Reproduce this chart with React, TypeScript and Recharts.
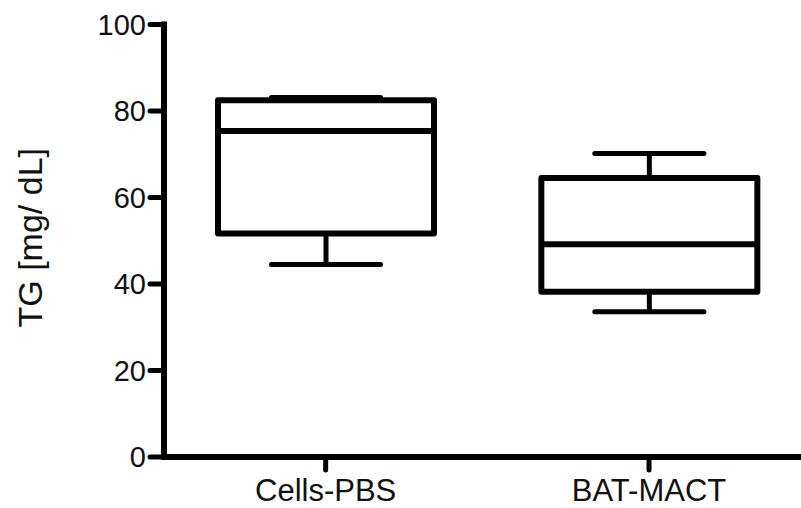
import React from 'react';
import { ComposedChart, Bar, XAxis, YAxis } from 'recharts';

const categories = ['Cells-PBS', 'BAT-MACT'];
const minValues = [44.5, 33.6];
const q1Values = [51.7, 38.2];
const medianValues = [75.4, 49.2];
const q3Values = [82.5, 64.5];
const maxValues = [83.1, 70.2];
const yTicks = [0, 20, 40, 60, 80, 100];
const xTicks = [0, 1];

const data = categories.map((name, i) => ({
  idx: i,
  name,
  range: [minValues[i], maxValues[i]],
  min: minValues[i],
  q1: q1Values[i],
  median: medianValues[i],
  q3: q3Values[i],
  max: maxValues[i],
}));

const FONT = '"Liberation Sans", Arial, sans-serif';
const INK = '#000';

const BoxShape = (props: any) => {
  const { x, y, width, height, payload } = props;
  if (!payload) return null;
  const top = Math.min(y, y + height);
  const bot = Math.max(y, y + height);
  const { min, q1, median, q3, max } = payload;
  const yOf = (v: number) => bot - ((v - min) / (max - min)) * (bot - top);
  const cx = x + width / 2;
  const capHalf = width * 0.2525;
  return (
    <g>
      <line x1={cx} x2={cx} y1={yOf(q3)} y2={yOf(max)} stroke={INK} strokeWidth={5} />
      <line x1={cx} x2={cx} y1={yOf(q1)} y2={yOf(min)} stroke={INK} strokeWidth={5} />
      <line x1={cx - capHalf} x2={cx + capHalf} y1={yOf(max)} y2={yOf(max)} stroke={INK} strokeWidth={5} strokeLinecap="round" />
      <line x1={cx - capHalf} x2={cx + capHalf} y1={yOf(min)} y2={yOf(min)} stroke={INK} strokeWidth={5} strokeLinecap="round" />
      <rect
        x={x}
        y={yOf(q3)}
        width={width}
        height={yOf(q1) - yOf(q3)}
        fill="#fff"
        stroke={INK}
        strokeWidth={6}
        strokeLinejoin="round"
      />
      <line x1={x} x2={x + width} y1={yOf(median)} y2={yOf(median)} stroke={INK} strokeWidth={6} />
    </g>
  );
};

const YLabel = (props: any) => {
  const vb = props.viewBox || { x: 0, y: 0, width: 0, height: 0 };
  const lx = vb.x + 42;
  const ly = vb.y + vb.height / 2 - 3;
  return (
    <text
      x={lx}
      y={ly}
      transform={`rotate(-90, ${lx}, ${ly})`}
      textAnchor="middle"
      fontSize={34}
      fontFamily={FONT}
      fill="#111"
    >
      TG [mg/ dL]
    </text>
  );
};

export default function App() {
  return (
    <div style={{ position: 'absolute', left: 0, top: 0, width: 801, height: 508, background: '#fff' }}>
      <ComposedChart
        width={801}
        height={508}
        data={data}
        margin={{ top: 24.5, right: 0, bottom: 0, left: 0 }}
      >
        <XAxis
          dataKey="idx"
          type="number"
          domain={[-0.5, 1.47]}
          ticks={xTicks}
          allowDataOverflow
          tickFormatter={(v: number) => categories[v] ?? ''}
          height={51}
          tickSize={13}
          tickMargin={9}
          axisLine={{ stroke: INK, strokeWidth: 6, strokeLinecap: 'square' }}
          tickLine={{ stroke: INK, strokeWidth: 5, strokeLinecap: 'round' }}
          tick={{ fill: '#111', fontSize: 31, fontFamily: FONT }}
        />
        <YAxis
          type="number"
          domain={[0, 100]}
          ticks={yTicks}
          width={164}
          tickSize={14}
          tickMargin={4}
          axisLine={{ stroke: INK, strokeWidth: 6, strokeLinecap: 'square' }}
          tickLine={{ stroke: INK, strokeWidth: 5, strokeLinecap: 'round' }}
          tick={{ fill: '#111', fontSize: 29, fontFamily: FONT }}
          label={<YLabel />}
        />
        <Bar dataKey="range" barSize={216} shape={BoxShape} isAnimationActive={false} />
      </ComposedChart>
    </div>
  );
}
